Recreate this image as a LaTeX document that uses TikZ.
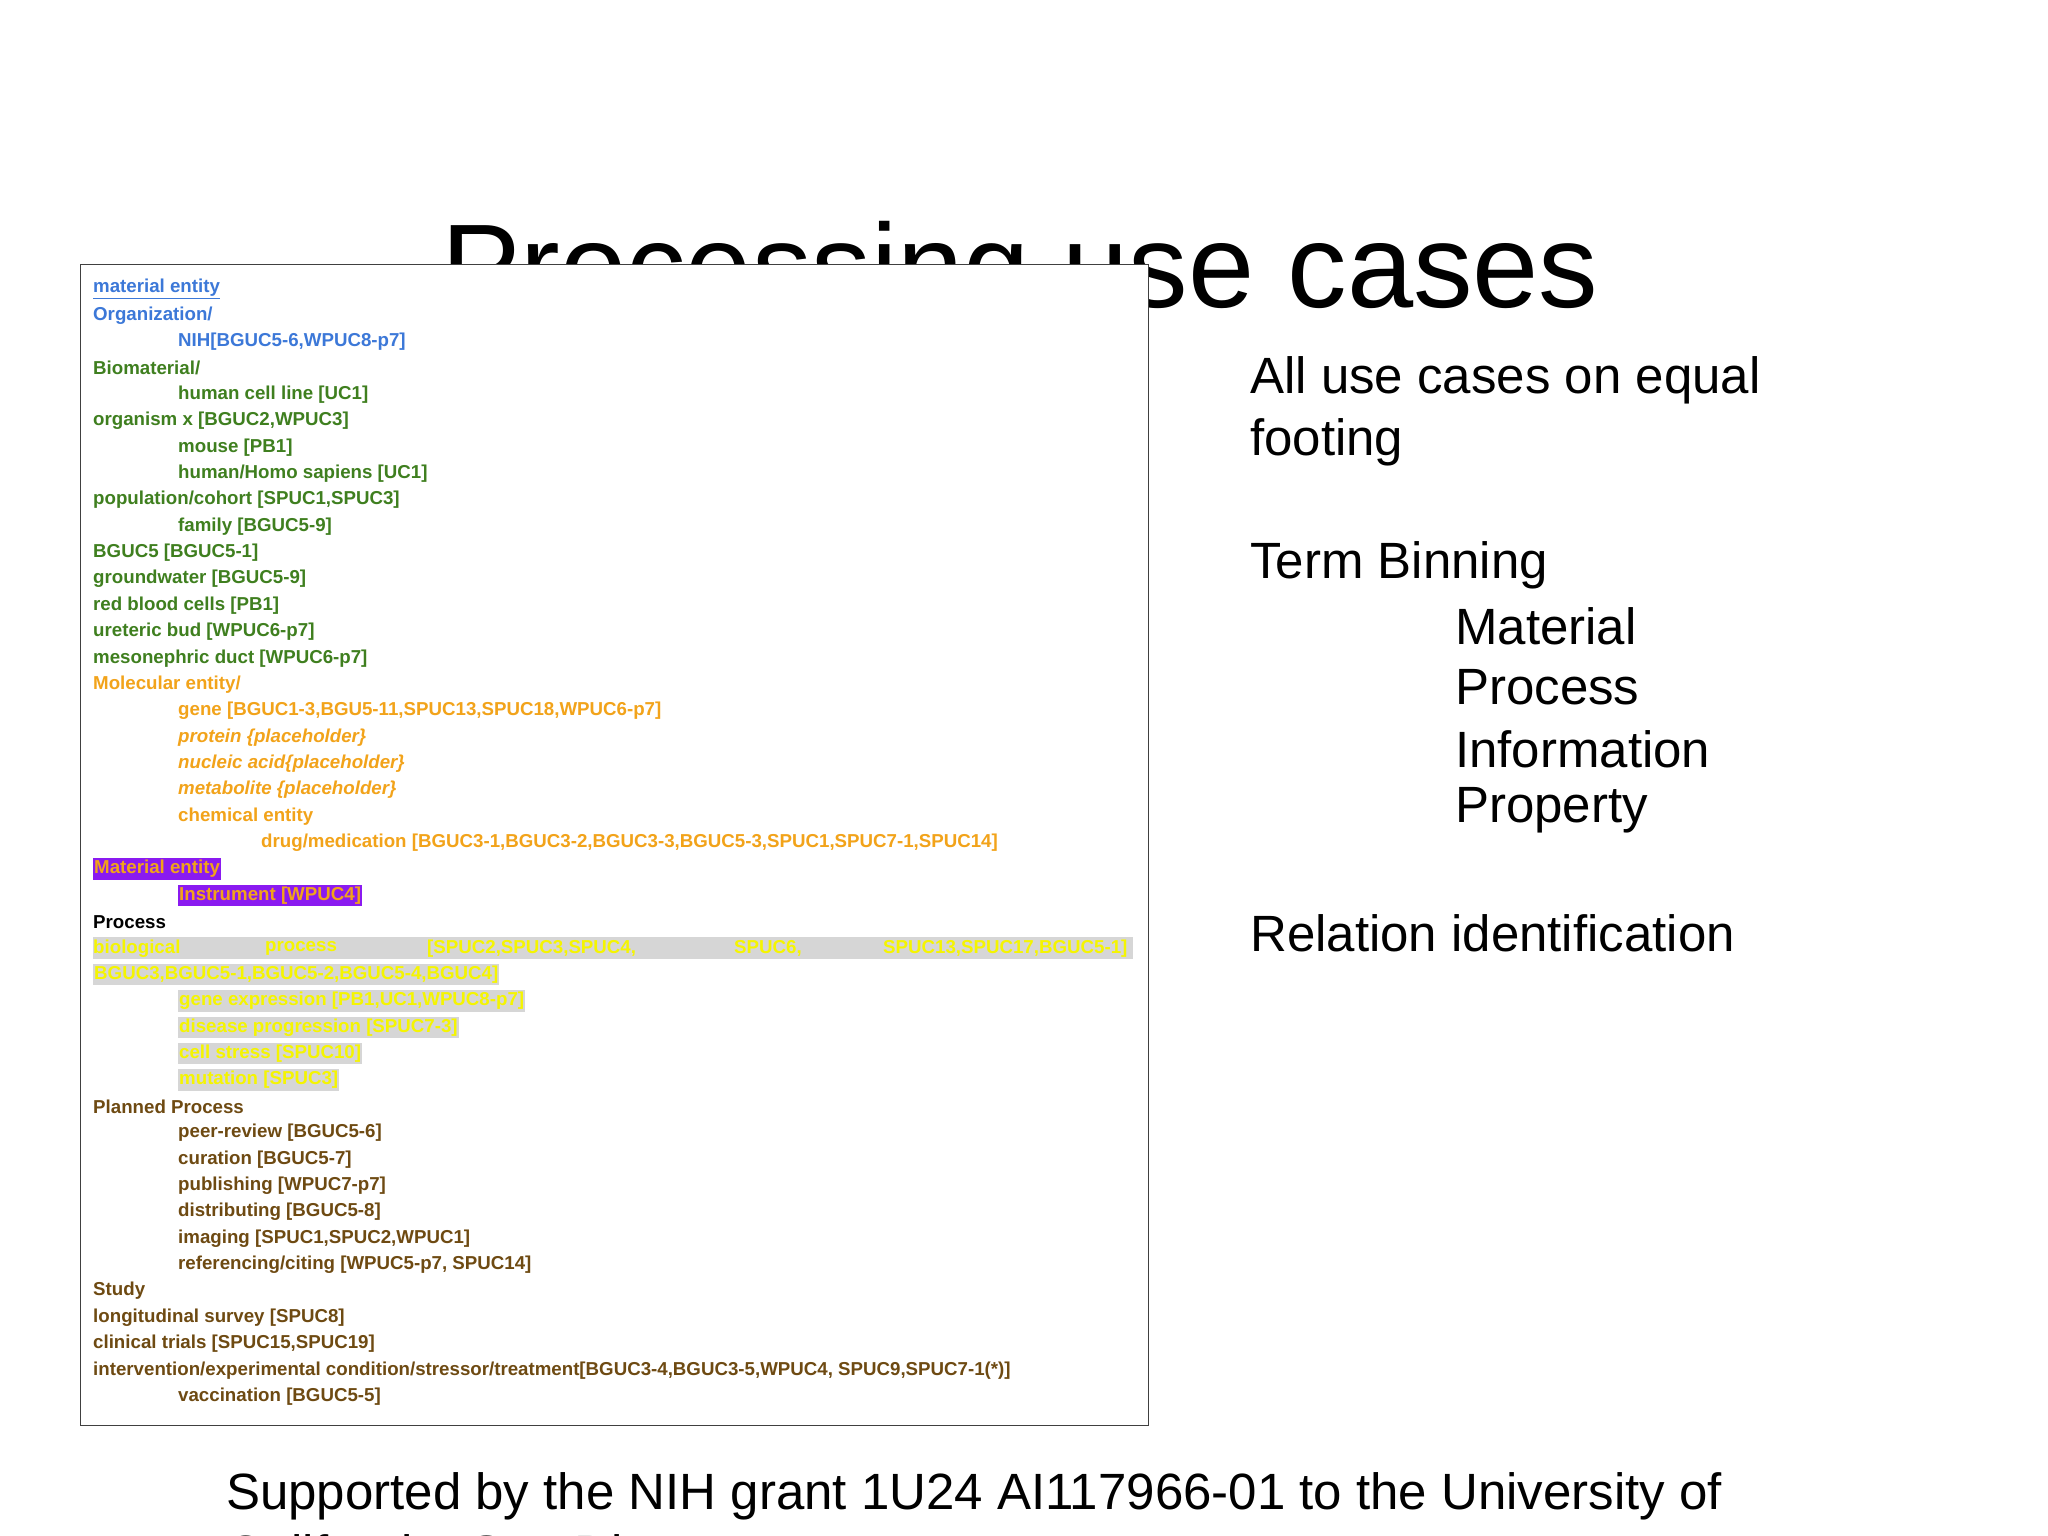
\documentclass[tikz,border=0pt]{standalone}
\usepackage{fontspec}
\setmainfont{Liberation Sans}
\definecolor{cblue}{HTML}{3C78D8}
\definecolor{cgreen}{HTML}{3F7F1F}
\definecolor{corange}{HTML}{F2A31A}
\definecolor{cbrown}{HTML}{6E4A12}
\definecolor{cpurple}{HTML}{8A1AF0}
\definecolor{cgrey}{HTML}{D6D6D6}
\definecolor{cyel}{HTML}{F5F500}
\newcommand\entryline[5][]{\node[ent,#1] (#2) at (#3,289+26.37*#4) {#5};}
\begin{document}
\begin{tikzpicture}[x=1pt,y=-1pt,
  ent/.style={anchor=west,inner sep=0pt,font=\fontsize{18.7}{18.7}\selectfont\bfseries},
  side/.style={anchor=west,inner sep=0pt,font=\fontsize{51}{51}\selectfont},
  hl/.style={fill=cgrey,text=cyel,inner ysep=2pt,inner xsep=1pt},
  mg/.style={fill=cpurple,text=corange,inner ysep=2pt,inner xsep=1pt}]
\useasboundingbox (0,0) rectangle (2048,1536);
\clip (0,0) rectangle (2048,1536);
\node[anchor=base west,inner sep=0pt,font=\fontsize{119}{119}\selectfont] (title) at (441,307) {Processing use cases};
\node[draw=black!75,line width=1.2pt,fill=white,anchor=north west,minimum width=1068,minimum height=1161,inner sep=0pt] (box) at (80,264) {};
\entryline[text=cblue]{l0}{93}{0}{\underline{material entity}}
\entryline[text=cblue]{l1}{93}{1}{Organization/}
\entryline[text=cblue]{l2}{178}{2}{NIH[BGUC5-6,WPUC8-p7]}
\entryline[text=cgreen]{l3}{93}{3}{Biomaterial/}
\entryline[text=cgreen]{l4}{178}{4}{human cell line [UC1]}
\entryline[text=cgreen]{l5}{93}{5}{organism x [BGUC2,WPUC3]}
\entryline[text=cgreen]{l6}{178}{6}{mouse [PB1]}
\entryline[text=cgreen]{l7}{178}{7}{human/Homo sapiens [UC1]}
\entryline[text=cgreen]{l8}{93}{8}{population/cohort [SPUC1,SPUC3]}
\entryline[text=cgreen]{l9}{178}{9}{family [BGUC5-9]}
\entryline[text=cgreen]{l10}{93}{10}{BGUC5 [BGUC5-1]}
\entryline[text=cgreen]{l11}{93}{11}{groundwater [BGUC5-9]}
\entryline[text=cgreen]{l12}{93}{12}{red blood cells [PB1]}
\entryline[text=cgreen]{l13}{93}{13}{ureteric bud [WPUC6-p7]}
\entryline[text=cgreen]{l14}{93}{14}{mesonephric duct [WPUC6-p7]}
\entryline[text=corange]{l15}{93}{15}{Molecular entity/}
\entryline[text=corange]{l16}{178}{16}{gene [BGUC1-3,BGU5-11,SPUC13,SPUC18,WPUC6-p7]}
\entryline[text=corange]{l17}{178}{17}{\itshape protein \{placeholder\}}
\entryline[text=corange]{l18}{178}{18}{\itshape nucleic acid\{placeholder\}}
\entryline[text=corange]{l19}{178}{19}{\itshape metabolite \{placeholder\}}
\entryline[text=corange]{l20}{178}{20}{chemical entity}
\entryline[text=corange]{l21}{261}{21}{drug/medication [BGUC3-1,BGUC3-2,BGUC3-3,BGUC5-3,SPUC1,SPUC7-1,SPUC14]}
\entryline[mg]{l22}{93}{22}{Material entity}
\entryline[mg]{l23}{178}{23}{Instrument [WPUC4]}
\entryline[text=black]{l24}{93}{24}{Process}
\fill[cgrey] (93,289+26.37*25-11) rectangle (1133,289+26.37*25+11);
\entryline[text=cyel]{l25a}{93}{25}{biological}
\entryline[text=cyel]{l25b}{265}{25}{process}
\entryline[text=cyel]{l25c}{427}{25}{[SPUC2,SPUC3,SPUC4,}
\entryline[text=cyel]{l25d}{734}{25}{SPUC6,}
\entryline[text=cyel]{l25e}{883}{25}{SPUC13,SPUC17,BGUC5-1]}
\entryline[hl]{l26}{93}{26}{BGUC3,BGUC5-1,BGUC5-2,BGUC5-4,BGUC4]}
\entryline[hl]{l27}{178}{27}{gene expression [PB1,UC1,WPUC8-p7]}
\entryline[hl]{l28}{178}{28}{disease progression [SPUC7-3]}
\entryline[hl]{l29}{178}{29}{cell stress [SPUC10]}
\entryline[hl]{l30}{178}{30}{mutation [SPUC3]}
\entryline[text=cbrown]{l31}{93}{31}{Planned Process}
\entryline[text=cbrown]{l32}{178}{32}{peer-review [BGUC5-6]}
\entryline[text=cbrown]{l33}{178}{33}{curation [BGUC5-7]}
\entryline[text=cbrown]{l34}{178}{34}{publishing [WPUC7-p7]}
\entryline[text=cbrown]{l35}{178}{35}{distributing [BGUC5-8]}
\entryline[text=cbrown]{l36}{178}{36}{imaging [SPUC1,SPUC2,WPUC1]}
\entryline[text=cbrown]{l37}{178}{37}{referencing/citing [WPUC5-p7, SPUC14]}
\entryline[text=cbrown]{l38}{93}{38}{Study}
\entryline[text=cbrown]{l39}{93}{39}{longitudinal survey [SPUC8]}
\entryline[text=cbrown]{l40}{93}{40}{clinical trials [SPUC15,SPUC19]}
\entryline[text=cbrown]{l41}{93}{41}{intervention/experimental condition/stressor/treatment[BGUC3-4,BGUC3-5,WPUC4, SPUC9,SPUC7-1(*)]}
\entryline[text=cbrown]{l42}{178}{42}{vaccination [BGUC5-5]}
\node[side] (s1) at (1250,380) {All use cases on equal};
\node[side] (s2) at (1250,442) {footing};
\node[side] (s3) at (1250,565) {Term Binning};
\node[side] (s4) at (1455,626) {Material};
\node[side] (s5) at (1455,687) {Process};
\node[side] (s6) at (1455,749) {Information};
\node[side] (s7) at (1455,810) {Property};
\node[side] (s8) at (1250,933) {Relation identification};
\node[side] (f1) at (226,1496) {Supported by the NIH grant 1U24 AI117966-01 to the University of};
\node[side] (f2) at (226,1558) {California, San Diego};
\end{tikzpicture}
\end{document}
